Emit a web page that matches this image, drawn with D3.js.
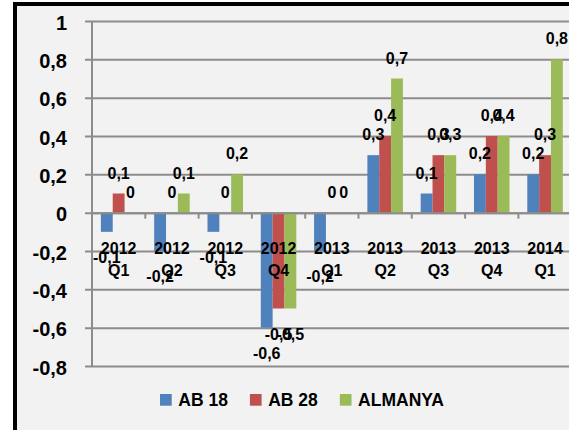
<!DOCTYPE html>
<html>
<head>
<meta charset="utf-8">
<script src="https://cdn.jsdelivr.net/npm/d3@7"></script>
<style>
  html, body { margin: 0; padding: 0; background: #ffffff; }
  svg { display: block; }
  text { font-family: "Liberation Sans", Arial, sans-serif; font-weight: bold; fill: #000; }
</style>
</head>
<body>
<svg id="chart" width="569" height="430"></svg>
<script>
// ---- data ----
const years = ["2012", "2012", "2012", "2012", "2013", "2013", "2013", "2013", "2014"];
const quarters = ["Q1", "Q2", "Q3", "Q4", "Q1", "Q2", "Q3", "Q4", "Q1"];
const seriesNames = ["AB 18", "AB 28", "ALMANYA"];
const ab18 = [-0.1, -0.2, -0.1, -0.6, -0.2, 0.3, 0.1, 0.2, 0.2];
const ab28 = [0.1, 0, 0, -0.5, 0, 0.4, 0.3, 0.4, 0.3];
const almanya = [0, 0.1, 0.2, -0.5, 0, 0.7, 0.3, 0.4, 0.8];
const yTicks = [-0.8, -0.6, -0.4, -0.2, 0, 0.2, 0.4, 0.6, 0.8, 1];
const colors = ["#4F81BD", "#C0504D", "#9BBB59"];

const seriesValues = [ab18, ab28, almanya];
const categories = years.map((y, i) => i);

const svg = d3.select("#chart");
const fmt = v => String(v).replace(".", ",");

// frame
svg.append("rect").attr("x", 15).attr("y", 4).attr("width", 620).attr("height", 520)
  .attr("fill", "#f2f2f2").attr("stroke", "#000").attr("stroke-width", 4);

const x = d3.scaleBand().domain(categories).range([92, 92 + 53.3 * 9]).paddingInner(0).paddingOuter(0);
const xs = d3.scaleBand().domain([0, 1, 2]).range([0, x.bandwidth()]).paddingInner(0).paddingOuter(0.75 / 1);
// group width = 3 bars, outer gap = 0.75 bar each side
const bw = x.bandwidth() / 4.5;
const y = d3.scaleLinear().domain([-0.8, 1]).range([366, 21]);

const gridColor = "#8c8c8c";

// gridlines + left ticks
const yAxis = d3.axisLeft(y).tickValues(yTicks).tickSize(-(x.range()[1] - 92)).tickFormat(fmt).tickSizeOuter(0);
const gy = svg.append("g").attr("transform", "translate(92,0)").call(yAxis);
gy.select(".domain").remove();
gy.selectAll(".tick line").attr("stroke", gridColor).attr("stroke-width", 2).attr("x1", -7);
gy.selectAll(".tick text").attr("x", -25).attr("dy", null).attr("y", 8)
  .style("font-size", "20px").attr("text-anchor", "end").attr("fill", "#000");

// vertical axis line
svg.append("line").attr("x1", 92).attr("x2", 92).attr("y1", y(1)).attr("y2", y(-0.8))
  .attr("stroke", gridColor).attr("stroke-width", 2);

// bars
const bars = svg.append("g");
seriesValues.forEach((vals, s) => {
  bars.selectAll(null).data(vals).enter().append("rect")
    .attr("x", (d, i) => x(i) + bw * 0.75 + s * bw)
    .attr("width", bw)
    .attr("y", d => Math.min(y(d), y(0)))
    .attr("height", d => Math.abs(y(d) - y(0)))
    .attr("fill", colors[s]);
});

// x axis line at 0 with ticks
const xAxis = d3.axisBottom(x).tickValues([]).tickSizeOuter(0);
const gx = svg.append("g").attr("transform", `translate(0,${y(0)})`).call(xAxis);
gx.select(".domain").attr("stroke", gridColor).attr("stroke-width", 2);
gx.selectAll(null).data(d3.range(10)).enter().append("line")
  .attr("x1", i => 92 + x.step() * i).attr("x2", i => 92 + x.step() * i)
  .attr("y1", 0).attr("y2", 6).attr("stroke", gridColor).attr("stroke-width", 2);

// category labels
const cl = svg.append("g");
categories.forEach(i => {
  const cx = x(i) + x.bandwidth() / 2;
  cl.append("text").attr("x", cx).attr("y", 253.5).attr("text-anchor", "middle")
    .style("font-size", "16px").text(years[i]);
  cl.append("text").attr("x", cx).attr("y", 275.5).attr("text-anchor", "middle")
    .style("font-size", "16px").text(quarters[i]);
});

// data labels
const dl = svg.append("g");
seriesValues.forEach((vals, s) => {
  dl.selectAll(null).data(vals).enter().append("text")
    .attr("x", (d, i) => x(i) + bw * 0.75 + s * bw + bw / 2)
    .attr("y", d => d >= 0 ? y(d) - 15 : y(d) + 31)
    .attr("text-anchor", "middle")
    .style("font-size", "16px")
    .text(d => fmt(d));
});

// legend
const lg = svg.append("g");
let lx = 160;
seriesNames.forEach((name, s) => {
  lg.append("rect").attr("x", lx).attr("y", 394).attr("width", 11.7).attr("height", 11.7).attr("fill", colors[s]);
  const t = lg.append("text").attr("x", lx + 18.3).attr("y", 405.5).style("font-size", "17.5px").text(name);
  const w = t.node().getComputedTextLength();
  lx = lx + 18.3 + w + 22;
});
</script>
</body>
</html>
